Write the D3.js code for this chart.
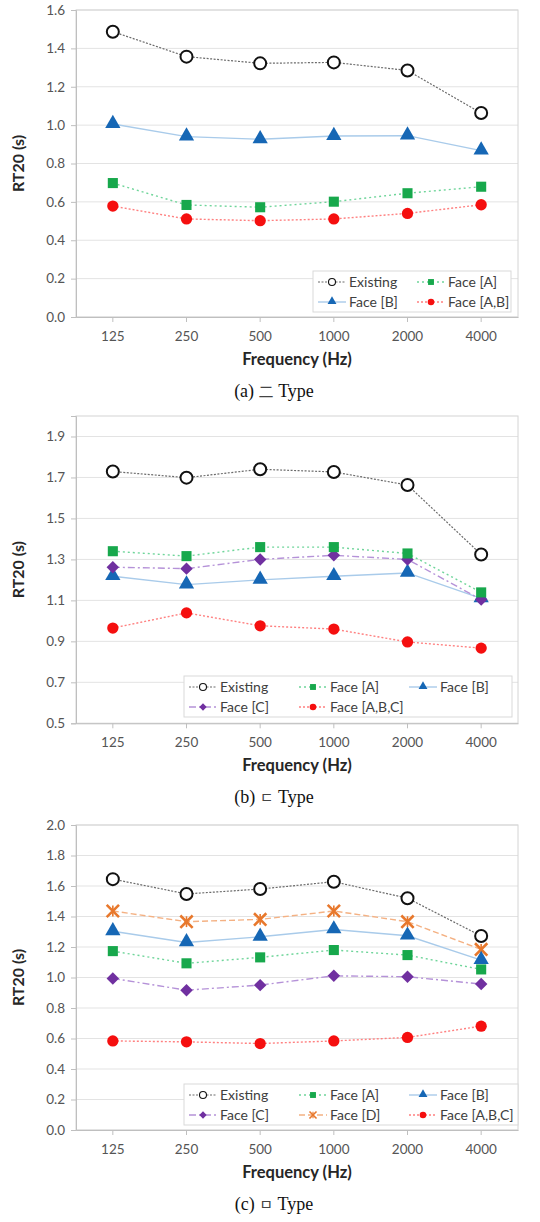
<!DOCTYPE html>
<html>
<head>
<meta charset="utf-8">
<script src="https://cdn.jsdelivr.net/npm/d3@7"></script>
<style>
  body { margin: 0; background: #fff; }
  svg { display: block; }
</style>
</head>
<body>
<div id="chart"></div>
<script>
// frequency bands (x categories)
var freqs = ["125", "250", "500", "1000", "2000", "4000"];

// (a) 二 Type
var aExisting = [1.487, 1.357, 1.322, 1.327, 1.285, 1.063];
var aFaceA    = [0.698, 0.584, 0.572, 0.601, 0.645, 0.679];
var aFaceB    = [1.006, 0.940, 0.926, 0.943, 0.945, 0.867];
var aFaceAB   = [0.578, 0.511, 0.502, 0.511, 0.540, 0.585];

// (b) ㄷ Type
var bExisting = [1.729, 1.699, 1.740, 1.727, 1.663, 1.324];
var bFaceA    = [1.340, 1.316, 1.360, 1.360, 1.329, 1.139];
var bFaceB    = [1.218, 1.177, 1.200, 1.218, 1.234, 1.110];
var bFaceC    = [1.262, 1.255, 1.300, 1.320, 1.300, 1.104];
var bFaceABC  = [0.965, 1.039, 0.976, 0.960, 0.897, 0.867];

// (c) ㅁ Type
var cExisting = [1.645, 1.548, 1.580, 1.628, 1.520, 1.272];
var cFaceA    = [1.173, 1.093, 1.132, 1.180, 1.147, 1.053];
var cFaceB    = [1.303, 1.230, 1.267, 1.315, 1.274, 1.114];
var cFaceC    = [0.994, 0.917, 0.950, 1.011, 1.005, 0.957];
var cFaceD    = [1.436, 1.366, 1.381, 1.436, 1.366, 1.184];
var cFaceABC  = [0.584, 0.578, 0.567, 0.584, 0.607, 0.681];

// y tick labels
var aTicks = ["0.0", "0.2", "0.4", "0.6", "0.8", "1.0", "1.2", "1.4", "1.6"];
var bTicks = ["0.5", "0.7", "0.9", "1.1", "1.3", "1.5", "1.7", "1.9"];
var cTicks = ["0.0", "0.2", "0.4", "0.6", "0.8", "1.0", "1.2", "1.4", "1.6", "1.8", "2.0"];

// series styles
var styles = {
    "Existing":    {marker: "openCircle", color: "#111", line: "#6b6b6b", dash: "2,1.5", lw: 1.2},
    "Face [A]":    {marker: "square",  color: "#17a84c", line: "#6fd59a", dash: "2,3", lw: 1.4},
    "Face [B]":    {marker: "triangle", color: "#1667b5", line: "#a9cbea", dash: null, lw: 1.4},
    "Face [C]":    {marker: "diamond", color: "#7030a0", line: "#b592d8", dash: "7,3,2,3", lw: 1.4},
    "Face [D]":    {marker: "star",    color: "#e8782c", line: "#f4b183", dash: "6,3", lw: 1.4},
    "Face [A,B]":  {marker: "dot",     color: "#f50f0f", line: "#ff8080", dash: "2,2", lw: 1.4},
    "Face [A,B,C]":{marker: "dot",     color: "#f50f0f", line: "#ff8080", dash: "2,2", lw: 1.4}
};

var W = 540, H = 1222;
var svg = d3.select("#chart").append("svg")
    .attr("width", W)
    .attr("height", H);

var fontSans = "Lato, 'Open Sans', sans-serif";

function drawMarker(g, type, cx, cy, s, color) {
    var big = s > 9;
    if (type == "openCircle") {
        g.append("circle").attr("cx", cx).attr("cy", cy).attr("r", s * 0.5)
            .attr("fill", "#fff").attr("stroke", color).attr("stroke-width", big ? 2 : 1.1);
    } else if (type == "dot") {
        g.append("circle").attr("cx", cx).attr("cy", cy).attr("r", s * 0.47).attr("fill", color);
    } else if (type == "square") {
        var h = s * 0.42;
        g.append("rect").attr("x", cx - h).attr("y", cy - h)
            .attr("width", 2 * h).attr("height", 2 * h).attr("fill", color);
    } else if (type == "triangle") {
        g.append("path").attr("d", d3.symbol(d3.symbolTriangle, s * s * 0.7)())
            .attr("transform", "translate(" + cx + "," + (cy - 0.5) + ")").attr("fill", color);
    } else if (type == "diamond") {
        var r = s * 0.52;
        g.append("path")
            .attr("d", "M" + cx + "," + (cy - r) + "L" + (cx + r) + "," + cy +
                       "L" + cx + "," + (cy + r) + "L" + (cx - r) + "," + cy + "Z")
            .attr("fill", color);
    } else if (type == "star") {
        g.append("path").attr("d", d3.symbol(d3.symbolTimes, s * s * 0.7)())
            .attr("transform", "translate(" + cx + "," + cy + ")")
            .attr("fill", "none").attr("stroke", color).attr("stroke-width", big ? 2.6 : 1.6);
        g.append("line").attr("x1", cx).attr("x2", cx)
            .attr("y1", cy - s * 0.45).attr("y2", cy + s * 0.45)
            .attr("stroke", color).attr("stroke-width", big ? 1.6 : 1.1);
    }
}

function drawPanel(p) {
    var left = 76, right = 518;
    var g = svg.append("g");

    var x = d3.scaleBand().domain(freqs).range([left, right]);
    var y = d3.scaleLinear().domain(p.domain).range([p.bottom, p.top]);

    // gridlines
    g.selectAll(".grid")
        .data(p.ticks)
        .enter().append("line")
        .attr("x1", left).attr("x2", right)
        .attr("y1", function(d) { return y(+d); })
        .attr("y2", function(d) { return y(+d); })
        .attr("stroke", "#e3e3e3").attr("stroke-width", 1);

    // plot frame
    g.append("rect")
        .attr("x", left).attr("y", p.top)
        .attr("width", right - left).attr("height", p.bottom - p.top)
        .attr("fill", "none").attr("stroke", "#d4d4d4");

    // y axis
    var yAxis = d3.axisLeft(y)
        .tickValues(p.ticks.map(Number))
        .tickFormat(function(d, i) { return p.ticks[i]; })
        .tickSize(5).tickPadding(6);
    var ya = g.append("g").attr("transform", "translate(" + left + ",0)").call(yAxis);
    ya.select(".domain").attr("stroke", "#bfbfbf");
    ya.selectAll(".tick line").attr("stroke", "#bfbfbf");
    ya.selectAll("text").attr("font-family", fontSans).attr("font-size", 13.5).attr("fill", "#555");

    // x axis
    var xAxis = d3.axisBottom(x).tickSize(5).tickPadding(9).tickSizeOuter(0);
    var xa = g.append("g").attr("transform", "translate(0," + p.bottom + ")").call(xAxis);
    xa.select(".domain").attr("stroke", "#bfbfbf");
    xa.selectAll(".tick line").attr("stroke", "#bfbfbf");
    xa.selectAll("text").attr("font-family", fontSans).attr("font-size", 13.5).attr("fill", "#555");

    // axis titles
    g.append("text")
        .attr("x", (left + right) / 2).attr("y", p.bottom + 48)
        .attr("text-anchor", "middle")
        .attr("font-family", fontSans).attr("font-weight", "bold")
        .attr("font-size", 16.5).attr("fill", "#262626")
        .text("Frequency (Hz)");

    g.append("text")
        .attr("transform", "translate(24," + ((p.top + p.bottom) / 2) + ") rotate(-90)")
        .attr("text-anchor", "middle")
        .attr("font-family", fontSans).attr("font-weight", "bold")
        .attr("font-size", 16).attr("fill", "#262626")
        .text("RT20 (s)");

    // caption
    var cap = g.append("text")
        .attr("x", 274).attr("y", p.bottom + 80)
        .attr("text-anchor", "middle")
        .attr("font-family", "'Liberation Serif', serif")
        .attr("font-size", 18).attr("fill", "#111");
    cap.append("tspan").text(p.label + "  ");
    cap.append("tspan").attr("font-family", "'Noto Sans CJK KR', sans-serif")
        .attr("font-size", 15).attr("fill", "#444").text(p.glyph);
    cap.append("tspan").text("  Type");

    // series lines, drawn back to front
    var line = d3.line()
        .x(function(d, i) { return x(freqs[i]) + x.bandwidth() / 2; })
        .y(function(d) { return y(d); });

    p.series.forEach(function(s) {
        var st = styles[s.name];
        g.append("path")
            .datum(s.values)
            .attr("d", line)
            .attr("fill", "none")
            .attr("stroke", st.line)
            .attr("stroke-width", st.lw)
            .attr("stroke-dasharray", st.dash);
    });
    p.series.forEach(function(s) {
        var st = styles[s.name];
        var mg = g.append("g");
        s.values.forEach(function(v, i) {
            drawMarker(mg, st.marker, x(freqs[i]) + x.bandwidth() / 2, y(v), 12, st.color);
        });
    });

    // legend
    var lg = g.append("g");
    lg.append("rect")
        .attr("x", p.legend.x).attr("y", p.legend.y)
        .attr("width", p.legend.w).attr("height", 41)
        .attr("fill", "#fff").attr("stroke", "#d9d9d9");
    p.legend.items.forEach(function(name, i) {
        var st = styles[name];
        var col = i % p.legend.cols, row = Math.floor(i / p.legend.cols);
        var lx = p.legend.x + 5 + col * p.legend.colW;
        var ly = p.legend.y + 11 + row * 20;
        lg.append("line")
            .attr("x1", lx).attr("x2", lx + 28)
            .attr("y1", ly).attr("y2", ly)
            .attr("stroke", st.line).attr("stroke-width", st.lw)
            .attr("stroke-dasharray", st.dash);
        drawMarker(lg, st.marker, lx + 14, ly, 7, st.color);
        lg.append("text")
            .attr("x", lx + 31).attr("y", ly + 5)
            .attr("font-family", fontSans).attr("font-size", 14).attr("fill", "#404040")
            .text(name);
    });
}

drawPanel({
    top: 10, bottom: 317, domain: [0, 1.6], ticks: aTicks,
    label: "(a)", glyph: "二",
    series: [
        {name: "Existing", values: aExisting},
        {name: "Face [B]", values: aFaceB},
        {name: "Face [A]", values: aFaceA},
        {name: "Face [A,B]", values: aFaceAB}
    ],
    legend: {x: 313, y: 271, w: 198, cols: 2, colW: 99,
             items: ["Existing", "Face [A]", "Face [B]", "Face [A,B]"]}
});

drawPanel({
    top: 416, bottom: 723.3, domain: [0.5, 2.0], ticks: bTicks,
    label: "(b)", glyph: "ㄷ",
    series: [
        {name: "Existing", values: bExisting},
        {name: "Face [B]", values: bFaceB},
        {name: "Face [C]", values: bFaceC},
        {name: "Face [A]", values: bFaceA},
        {name: "Face [A,B,C]", values: bFaceABC}
    ],
    legend: {x: 184, y: 676, w: 328, cols: 3, colW: 110,
             items: ["Existing", "Face [A]", "Face [B]", "Face [C]", "Face [A,B,C]"]}
});

drawPanel({
    top: 825, bottom: 1130, domain: [0, 2.0], ticks: cTicks,
    label: "(c)", glyph: "ㅁ",
    series: [
        {name: "Existing", values: cExisting},
        {name: "Face [D]", values: cFaceD},
        {name: "Face [B]", values: cFaceB},
        {name: "Face [A]", values: cFaceA},
        {name: "Face [C]", values: cFaceC},
        {name: "Face [A,B,C]", values: cFaceABC}
    ],
    legend: {x: 184, y: 1084, w: 334, cols: 3, colW: 110,
             items: ["Existing", "Face [A]", "Face [B]", "Face [C]", "Face [D]", "Face [A,B,C]"]}
});
</script>
</body>
</html>
